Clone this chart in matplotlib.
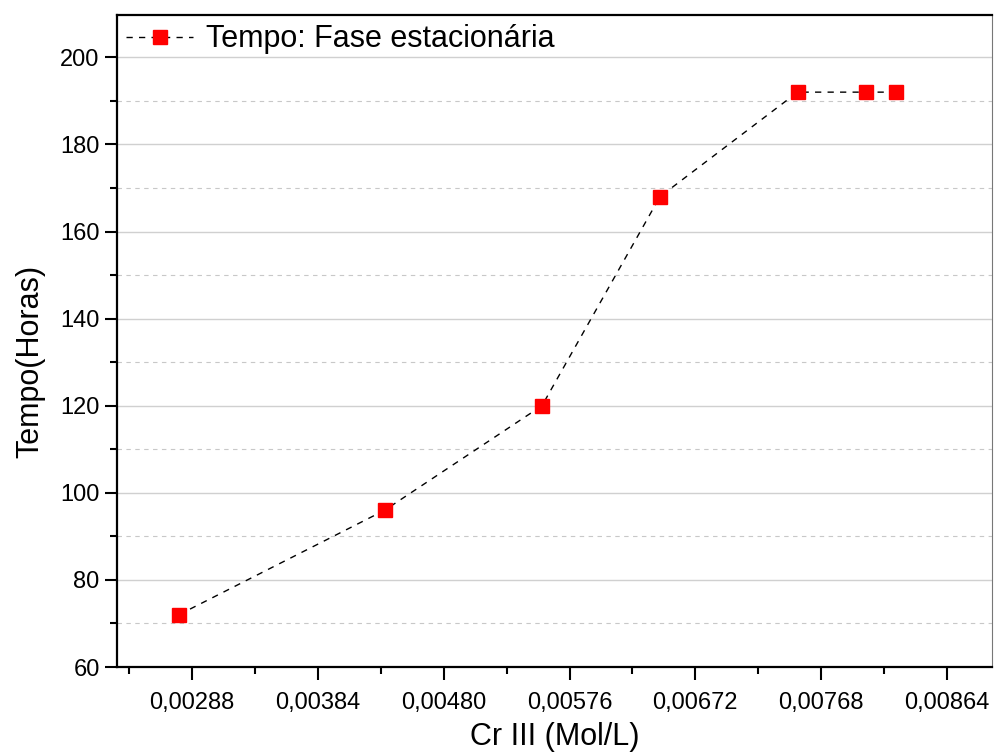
import matplotlib.pyplot as plt
from matplotlib.ticker import MultipleLocator, FixedLocator, FuncFormatter

plt.rcParams['font.family'] = ['Liberation Sans', 'DejaVu Sans']

cr = [0.00278, 0.00435, 0.00555, 0.00645, 0.00750, 0.00802, 0.00825]
tempo = [72, 96, 120, 168, 192, 192, 192]
xticks = [0.00288, 0.00384, 0.00480, 0.00576, 0.00672, 0.00768, 0.00864]

fig = plt.figure(figsize=(9.94, 7.53), dpi=100)
ax = fig.add_axes([0.1177, 0.1142, 0.8803, 0.8658])

ax.plot(cr, tempo, color='black', linestyle=(0, (4.5, 4.5)), linewidth=1.0,
        marker='s', markersize=10, markerfacecolor='red', markeredgecolor='red',
        label='Tempo: Fase estacionária', zorder=3)

ax.set_xlim(0.002308, 0.008983)
ax.set_ylim(60, 209.7)

ax.xaxis.set_major_locator(FixedLocator(xticks))
ax.xaxis.set_minor_locator(FixedLocator([t - 0.00048 for t in xticks] + [xticks[-1] + 0.00048]))
ax.xaxis.set_major_formatter(FuncFormatter(lambda v, p: f'{v:.5f}'.replace('.', ',')))
ax.yaxis.set_major_locator(MultipleLocator(20))
ax.yaxis.set_minor_locator(MultipleLocator(10))

ax.grid(which='major', axis='y', color='#d0d0d0', linewidth=1.0)
ax.grid(which='minor', axis='y', color='#c8c8c8', linewidth=0.8, linestyle=(0, (4, 4)))
ax.set_axisbelow(True)

ax.tick_params(which='major', direction='out', length=9, width=1.5, labelsize=17)
ax.tick_params(which='minor', direction='out', length=5, width=1.5)
ax.tick_params(axis='x', pad=9)
for s in ['left', 'bottom', 'top']:
    ax.spines[s].set_linewidth(1.6)
ax.spines['right'].set_color('#777777')

ax.set_xlabel('Cr III (Mol/L)', fontsize=22, labelpad=6)
ax.set_ylabel('Tempo(Horas)', fontsize=22)
ax.yaxis.set_label_coords(-0.082, 0.468)

ax.legend(loc='upper left', frameon=False, fontsize=22, handlelength=2.2,
          borderaxespad=0.0, borderpad=0.3, handletextpad=0.4)

plt.savefig('out.png', dpi=100)
